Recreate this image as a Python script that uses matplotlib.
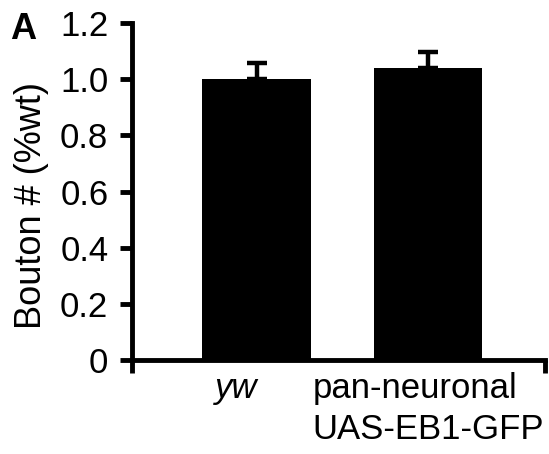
import matplotlib.pyplot as plt
import matplotlib.transforms as mtransforms

plt.rcParams['font.family'] = ['Liberation Sans', 'DejaVu Sans']

# data
groups = ['yw', 'pan-neuronal\nUAS-EB1-GFP']
boutons = [1.0, 1.04]
sem = [0.058, 0.057]
yticks = [0, 0.2, 0.4, 0.6, 0.8, 1.0, 1.2]
ytick_labels = ['0', '0.2', '0.4', '0.6', '0.8', '1.0', '1.2']

fig = plt.figure(figsize=(5.49, 4.54), dpi=100)
ax = fig.add_axes([0.2404, 0.2070, 0.7523, 0.7423])

pos = list(range(len(groups)))
ax.bar(pos, boutons, width=0.63, color='black')
ax.errorbar(pos, boutons, yerr=[[0, 0], sem], fmt='none', ecolor='black',
            elinewidth=3.2, capsize=7, capthick=3.2)

ax.set_xlim(-0.726, 1.682)
ax.set_ylim(0, 1.2)
ax.set_yticks(yticks)
ax.set_yticklabels(ytick_labels)

# only the two end ticks on the x axis
ax.set_xticks([-0.726, 1.682])
ax.set_xticklabels([])
ax.tick_params(axis='x', direction='out', length=9, width=3.5)
ax.tick_params(axis='y', direction='out', length=9, width=3.5, labelsize=25, pad=8)

for side in ['top', 'right']:
    ax.spines[side].set_visible(False)
for side in ['left', 'bottom']:
    ax.spines[side].set_linewidth(3.5)

# category labels under the bars
xt = ax.get_xaxis_transform()
shift = mtransforms.ScaledTranslation(-20 / 100, 0, fig.dpi_scale_trans)
ax.text(pos[0], -0.035, groups[0], transform=xt + shift, ha='center', va='top',
        fontsize=25, style='italic')
ax.text(pos[1], -0.035, groups[1], transform=xt, ha='center', va='top',
        fontsize=25, multialignment='left', linespacing=1.3)

fig.text(0.058, 0.547, 'Bouton # (%wt)', rotation=90, ha='center', va='center',
         fontsize=26)
fig.text(0.018, 0.934, 'A', fontsize=26, fontweight='bold', va='center')

fig.savefig('out.png', dpi=100)
